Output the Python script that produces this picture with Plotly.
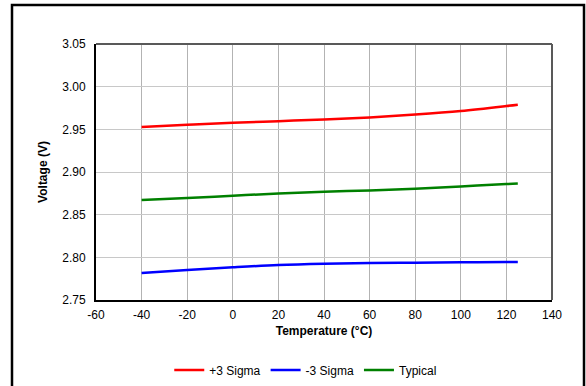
import plotly.graph_objects as go

# ── Dados ──────────────────────────────────────────────────────────────────
temperatura = [-40, -20, 0, 20, 40, 60, 80, 100, 120, 125]
mais_3_sigma = [2.9527, 2.9553, 2.9577, 2.9596, 2.9615, 2.9639, 2.9673, 2.9715, 2.9773, 2.9789]
menos_3_sigma = [2.7816, 2.7851, 2.7883, 2.7910, 2.7925, 2.7933, 2.7937, 2.7941, 2.7945, 2.7945]
tipico = [2.8671, 2.8694, 2.8722, 2.8749, 2.8769, 2.8784, 2.8804, 2.8831, 2.8858, 2.8866]

x_ticks = [-60, -40, -20, 0, 20, 40, 60, 80, 100, 120, 140]
x_ticktext = ["-60", "-40", "-20", "0", "20", "40", "60", "80", "100", "120", "140"]

series = [
    ("+3 Sigma", mais_3_sigma, "#ff0000"),
    ("-3 Sigma", menos_3_sigma, "#0000ff"),
    ("Typical", tipico, "#008000"),
]

FONTE = "Liberation Sans, Arial, sans-serif"
TRANSP = "rgba(0,0,0,0)"

fig = go.Figure()
for nome, valores, cor in series:
    fig.add_trace(go.Scatter(
        x=temperatura, y=valores,
        mode="lines",
        line=dict(color=cor, width=2.5, shape="spline"),
        name=nome,
    ))

fig.update_xaxes(
    range=[-60, 140], tickvals=x_ticks, ticktext=x_ticktext,
    showgrid=True, gridcolor="#b3b3b3", gridwidth=1,
    showline=True, linecolor="black", linewidth=2,
    zeroline=False, ticks="outside", ticklen=3, tickcolor=TRANSP,
    tickfont=dict(size=12, color="black"), automargin=False,
    title=dict(text="<b>Temperature (°C)</b>", font=dict(size=12, color="black"), standoff=5),
)
fig.update_yaxes(
    range=[2.75, 3.05], dtick=0.05, tickformat=".2f",
    showgrid=True, gridcolor="#c8c8c8", gridwidth=1,
    showline=True, linecolor="black", linewidth=2,
    zeroline=False, ticks="outside", ticklen=6, tickcolor=TRANSP,
    tickfont=dict(size=12, color="black"), automargin=False,
    title=dict(text="<b>Voltage (V)</b>", font=dict(size=12, color="black"), standoff=12),
)

# borda cinza no topo e à direita da área de plotagem + moldura externa
fig.add_shape(type="line", xref="paper", yref="paper", x0=0, x1=1, y0=1, y1=1,
              line=dict(color="#595959", width=2))
fig.add_shape(type="line", xref="paper", yref="paper", x0=1, x1=1, y0=0, y1=1,
              line=dict(color="#595959", width=2))
fig.add_shape(type="rect", xref="paper", yref="paper",
              x0=(12 - 96) / 456, x1=(584 - 96) / 456,
              y0=-1.0, y1=(300 - 5) / 256,
              line=dict(color="black", width=2.5))

fig.update_layout(
    width=586, height=386,
    plot_bgcolor="white", paper_bgcolor="white",
    font=dict(family=FONTE, size=12, color="black"),
    margin=dict(l=96, r=34, t=44, b=86, autoexpand=False),
    showlegend=True,
    legend=dict(
        orientation="h", x=0.46, xanchor="center", y=-0.273, yanchor="middle",
        font=dict(size=12), itemwidth=30, tracegroupgap=0,
    ),
)

# a página tem margem padrão de 8px; removida para alinhar com a referência
fig.write_html(
    "out.html",
    config={"displayModeBar": False},
    post_script="document.body.style.margin='0px';",
)
